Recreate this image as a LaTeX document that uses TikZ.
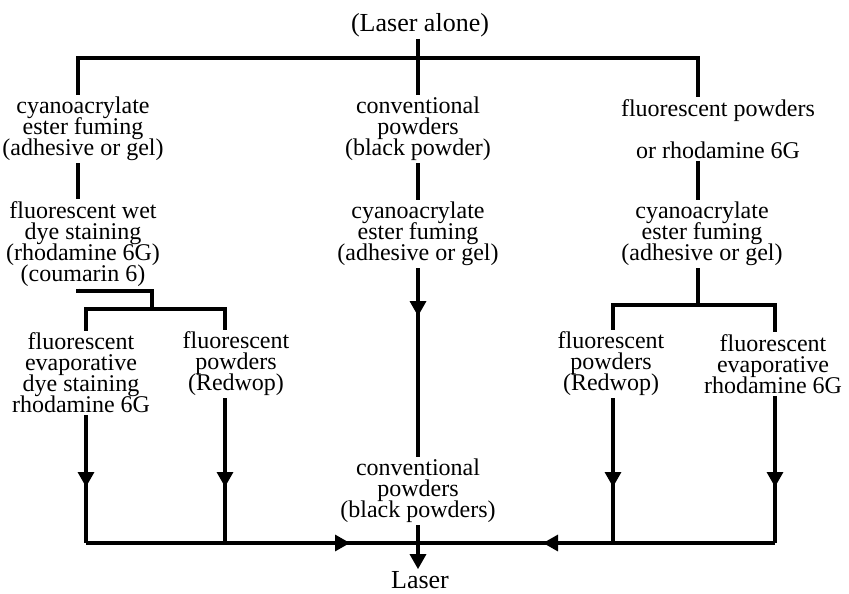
\documentclass[tikz,border=0pt]{standalone}
\usepackage{fontspec}
\setmainfont{Liberation Serif}
\usetikzlibrary{arrows.meta,decorations.markings}
\lineskiplimit=-30pt

\begin{document}
\begin{tikzpicture}[x=1pt,y=-1pt,
  stage/.style={align=center,inner sep=2pt,font=\fontsize{24}{21}\selectfont},
  flow/.style={line width=3.2pt},
  tipat/.style={postaction={decorate},decoration={markings,
    mark=at position #1 with {\arrow{Triangle[width=16pt,length=15pt]}}}}]
  \useasboundingbox (0,0) rectangle (849,594);

  % junctions
  \coordinate (barL) at (78,58);
  \coordinate (barR) at (698,58);
  \coordinate (kneeL) at (152,291);
  \coordinate (forkL) at (152,309);
  \coordinate (forkR) at (698,305);
  \coordinate (jLa) at (86,543);
  \coordinate (jLb) at (225,543);
  \coordinate (jM) at (418,543);
  \coordinate (jRa) at (613,543);
  \coordinate (jRb) at (775,543);

  \node[stage,font=\fontsize{26}{22}\selectfont] (title) at (420,25) {(Laser alone)};
  % left column
  \node[stage] (lcya) at (83,129) {cyanoacrylate\\ester fuming\\(adhesive or gel)};
  \node[stage] (lwet) at (83,244) {fluorescent wet\\dye staining\\(rhodamine 6G)\\(coumarin 6)};
  \node[stage] (levap) at (81,373) {fluorescent\\evaporative\\dye staining\\rhodamine 6G};
  \node[stage] (lred) at (236,364) {fluorescent\\powders\\(Redwop)};
  % middle column
  \node[stage] (mconv) at (418,129) {conventional\\powders\\(black powder)};
  \node[stage] (mcya) at (418,234) {cyanoacrylate\\ester fuming\\(adhesive or gel)};
  \node[stage] (mblack) at (418,491) {conventional\\powders\\(black powders)};
  \node[stage,font=\fontsize{26}{22}\selectfont] (laser) at (420,580) {Laser};
  % right column
  \node[stage] (rflu) at (718,129) {fluorescent powders\\[21pt]or rhodamine 6G};
  \node[stage] (rcya) at (702,234) {cyanoacrylate\\ester fuming\\(adhesive or gel)};
  \node[stage] (rred) at (611,364) {fluorescent\\powders\\(Redwop)};
  \node[stage] (revap) at (773,364) {fluorescent\\evaporative\\rhodamine 6G};

  % top bar
  \draw[flow] (lcya.north -| barL) -- (barL) -- (barR) -- (rflu.north -| barR);
  \draw[flow] (mconv.north |- title.south) -- (mconv.north);
  % left branch
  \draw[flow] (lcya.south -| barL) -- (lwet.north -| barL);
  \draw[flow] (lwet.south -| barL) |- (kneeL) -- (forkL);
  \draw[flow] (levap.north -| jLa) |- (forkL) -| (lred.north -| jLb);
  \draw[flow,tipat=-56pt] (levap.south -| jLa) -- (jLa);
  \draw[flow,tipat=-56pt] (lred.south -| jLb) -- (jLb);
  \draw[flow,tipat=-68pt] (jLa) -- (jM);
  % middle branch
  \draw[flow] (mconv.south) -- (mcya.north);
  \draw[flow,tipat=48pt] (mcya.south) -- (mblack.north);
  \draw[flow,-{Triangle[width=16pt,length=15pt]}] (mblack.south) -- (mblack.south |- laser.north);
  % right branch
  \draw[flow] (rflu.south -| barR) -- (rcya.north -| barR);
  \draw[flow] (rcya.south -| barR) -- (forkR);
  \draw[flow] (rred.north -| jRa) |- (forkR) -| (revap.north -| jRb);
  \draw[flow,tipat=-56pt] (rred.south -| jRa) -- (jRa);
  \draw[flow,tipat=-56pt] (revap.south -| jRb) -- (jRb);
  \draw[flow,tipat=-125pt] (jRb) -- (jM);
\end{tikzpicture}
\end{document}
